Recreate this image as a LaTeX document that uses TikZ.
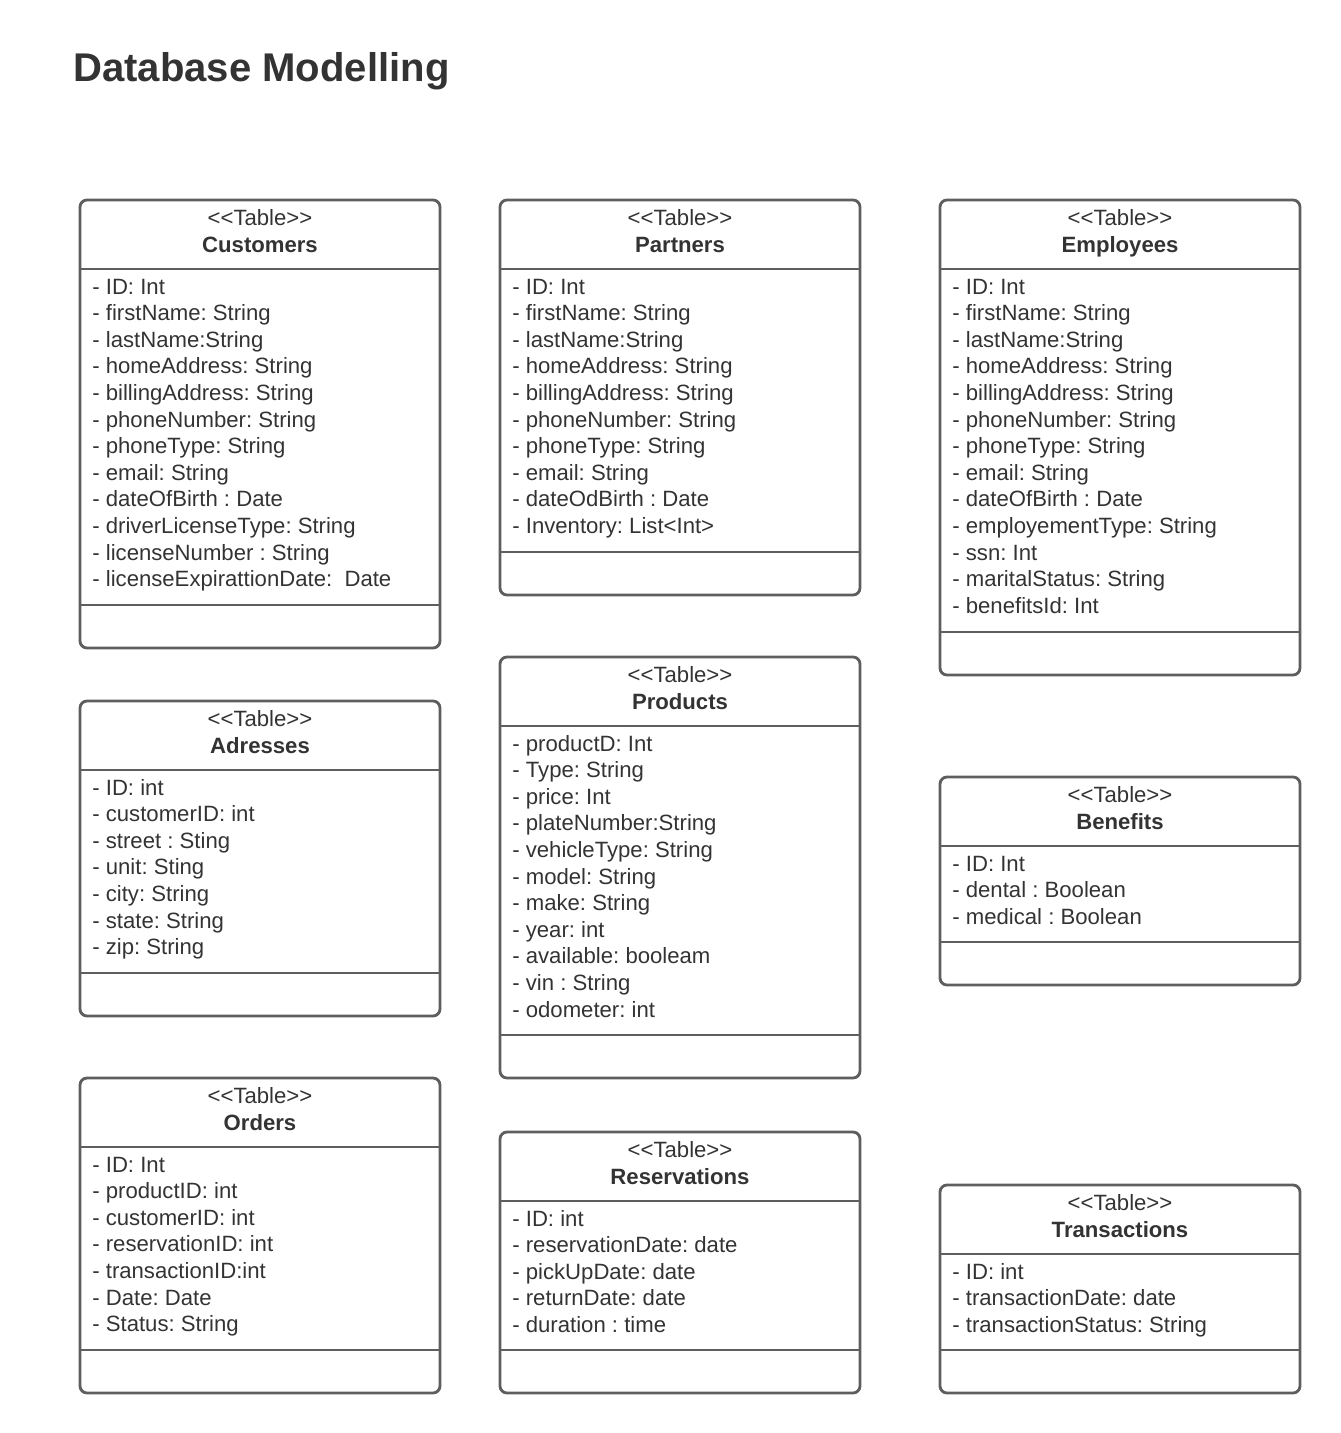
\documentclass[tikz,border=0pt]{standalone}
\usepackage{fontspec}
\setmainfont{Liberation Sans}
\usepackage{xcolor}
\usetikzlibrary{calc}

\definecolor{boxline}{HTML}{5E5E5E}
\definecolor{inktext}{HTML}{333333}
\frenchspacing

% one table: id, left, top, header bottom, attribute bottom, bottom, name, attributes
\newcommand{\dbtable}[8]{
  \draw[tablebox] (#2,#3) rectangle ($(#2,#6) + (360,0)$);
  \draw[divider] (#2,#4) -- ($(#2,#4) + (360,0)$);
  \draw[divider] (#2,#5) -- ($(#2,#5) + (360,0)$);
  \node[stereo] (#1-stereo) at ($(#2,#3) + (180,25)$) {{<}{<}Table{>}{>}};
  \node[tname] (#1-name) at ($(#2,#3) + (180,52)$) {#7};
  \foreach \t [count=\i from 0] in {#8} {
    \node[attr] (#1-\i) at ($(#2,#4) + (12,25+26.6*\i)$) {\t};
  }
}

\begin{document}
\begin{tikzpicture}[x=0.02cm, y=-0.02cm]
    \tikzset{
      tablebox/.style={
        draw=boxline, line width=1.6pt, rounded corners=4pt,
      },
      divider/.style={
        draw=boxline, line width=1.6pt,
      },
      stereo/.style={
        anchor=base, inner sep=0, text=inktext,
        font=\fontsize{12.6pt}{15pt}\selectfont,
      },
      tname/.style={
        anchor=base, inner sep=0, text=inktext,
        font=\fontsize{12.6pt}{15pt}\selectfont\bfseries,
      },
      attr/.style={
        anchor=base west, inner sep=0, text=inktext,
        font=\fontsize{12.6pt}{15pt}\selectfont,
      },
      heading/.style={
        anchor=base west, inner sep=0, text=inktext,
        font=\fontsize{22.8pt}{27pt}\selectfont\bfseries,
      },
    }
    \useasboundingbox (0,0) rectangle (1340,1433);

    \node[heading] (title) at (73,82) {Database Modelling};

    \dbtable{cust}{80}{200}{269}{605}{648}{Customers}{%
      - ID: Int, - firstName: String, - lastName:String,
      - homeAddress: String, - billingAddress: String,
      - phoneNumber: String, - phoneType: String, - email: String,
      - dateOfBirth : Date, - driverLicenseType: String,
      - licenseNumber : String, - licenseExpirattionDate:\ \ Date}

    \dbtable{part}{500}{200}{269}{552}{595}{Partners}{%
      - ID: Int, - firstName: String, - lastName:String,
      - homeAddress: String, - billingAddress: String,
      - phoneNumber: String, - phoneType: String, - email: String,
      - dateOdBirth : Date, - Inventory: List<Int>}

    \dbtable{empl}{940}{200}{269}{632}{675}{Employees}{%
      - ID: Int, - firstName: String, - lastName:String,
      - homeAddress: String, - billingAddress: String,
      - phoneNumber: String, - phoneType: String, - email: String,
      - dateOfBirth : Date, - employementType: String,
      - ssn: Int, - maritalStatus: String, - benefitsId: Int}

    \dbtable{addr}{80}{701}{770}{973}{1016}{Adresses}{%
      - ID: int, - customerID: int, - street : Sting, - unit: Sting,
      - city: String, - state: String, - zip: String}

    \dbtable{prod}{500}{657}{726}{1035}{1078}{Products}{%
      - productD: Int, - Type: String, - price: Int,
      - plateNumber:String, - vehicleType: String, - model: String,
      - make: String, - year: int, - available: booleam,
      - vin : String, - odometer: int}

    \dbtable{bene}{940}{777}{846}{942}{985}{Benefits}{%
      - ID: Int, - dental : Boolean, - medical : Boolean}

    \dbtable{ordr}{80}{1078}{1147}{1350}{1393}{Orders}{%
      - ID: Int, - productID: int, - customerID: int,
      - reservationID: int, - transactionID:int, - Date: Date,
      - Status: String}

    \dbtable{resv}{500}{1132}{1201}{1350}{1393}{Reservations}{%
      - ID: int, - reservationDate: date, - pickUpDate: date,
      - returnDate: date, - duration : time}

    \dbtable{tran}{940}{1185}{1254}{1350}{1393}{Transactions}{%
      - ID: int, - transactionDate: date, - transactionStatus: String}
\end{tikzpicture}
\end{document}
